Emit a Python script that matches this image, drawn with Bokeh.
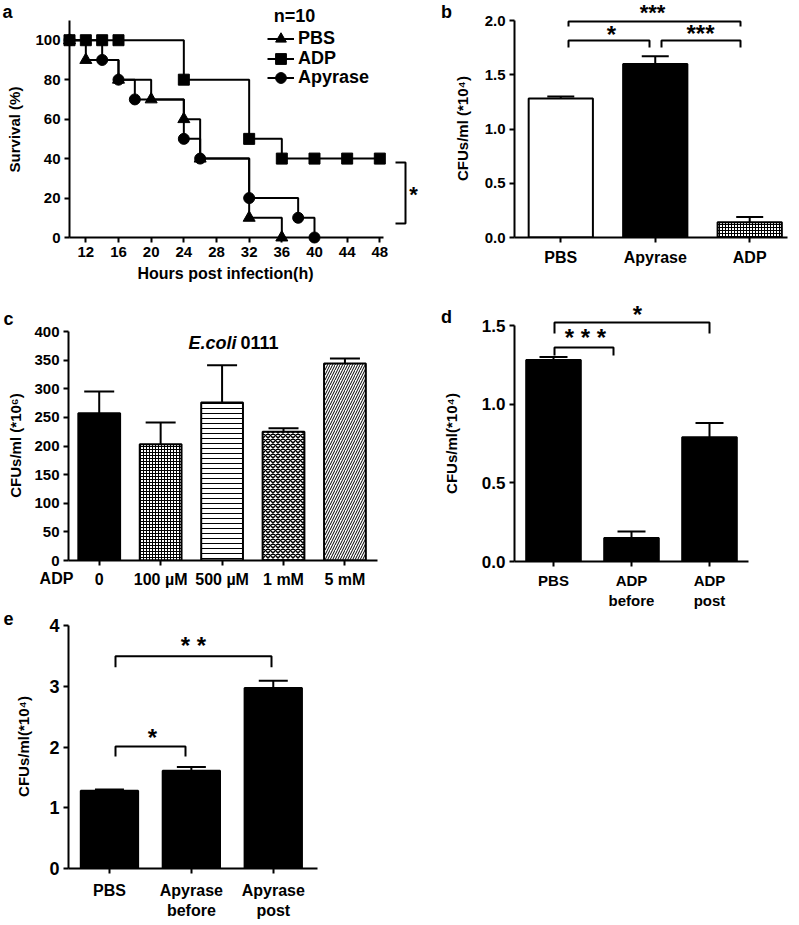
import math
from bokeh.plotting import figure
from bokeh.models import (ColumnDataSource, FixedTicker, Legend, LegendItem,
                          Range1d, TeeHead, Whisker, NumeralTickFormatter)
from bokeh.core.properties import field, value
from bokeh.layouts import row, column
from bokeh.embed import file_html
from bokeh.resources import INLINE

FONT = "Liberation Sans"

# ---------------- data ----------------
# (a) survival curves, n=10
pbs_hours = [10, 12, 16, 20, 24, 26, 32, 36]
pbs_survival = [100, 90, 80, 70, 60, 40, 10, 0]
adp_hours = [10, 12, 14, 16, 24, 32, 36, 40, 44, 48]
adp_survival = [100, 100, 100, 100, 80, 50, 40, 40, 40, 40]
apyrase_hours = [10, 14, 16, 18, 24, 26, 32, 38, 40]
apyrase_survival = [100, 90, 80, 70, 50, 40, 20, 10, 0]
hour_ticks = [12, 16, 20, 24, 28, 32, 36, 40, 44, 48]
survival_ticks = [0, 20, 40, 60, 80, 100]

# (b)
b_groups = ["PBS", "Apyrase", "ADP"]
b_mean = [1.28, 1.60, 0.14]
b_sem = [0.02, 0.07, 0.05]
b_ticks = [0.0, 0.5, 1.0, 1.5, 2.0]

# (c) E.coli 0111
c_groups = ["0", "100 µM", "500 µM", "1 mM", "5 mM"]
c_mean = [257, 203, 276, 225, 344]
c_sem = [38, 38, 65, 6, 9]
c_ticks = [0, 50, 100, 150, 200, 250, 300, 350, 400]

# (d)
d_groups = ["PBS", "ADP\nbefore", "ADP\npost"]
d_mean = [1.28, 0.15, 0.79]
d_sem = [0.02, 0.04, 0.09]
d_ticks = [0.0, 0.5, 1.0, 1.5]

# (e)
e_groups = ["PBS", "Apyrase\nbefore", "Apyrase\npost"]
e_mean = [1.28, 1.61, 2.97]
e_sem = [0.02, 0.06, 0.12]
e_ticks = [0, 1, 2, 3, 4]

# ---------------- styles ----------------
b_fill = ["white", "black", "white"]
b_hatch = ["blank", "blank", "cross"]
c_fill = ["black", "white", "white", "white", "white"]
c_hatch = ["blank", "cross", "horizontal_line", "diagonal_cross", "right_diagonal_line"]
c_hscale = [4, 3, 5, 5, 5]
c_hweight = [1, 1, 1, 1.5, 1]


class Panel:
    """canvas / frame given in page pixels"""
    def __init__(self, canvas, frame, xr, yr):
        self.cl, self.ct, self.cr, self.cb = canvas
        self.fl, self.ft, self.fr, self.fb = frame
        self.xr, self.yr = xr, yr

    def x(self, px):
        return self.xr[0] + (px - self.fl) * (self.xr[1] - self.xr[0]) / (self.fr - self.fl)

    def y(self, py):
        return self.yr[0] + (self.fb - py) * (self.yr[1] - self.yr[0]) / (self.fb - self.ft)

    def figure(self):
        p = figure(width=self.cr - self.cl, height=self.cb - self.ct,
                   x_range=Range1d(*self.xr), y_range=Range1d(*self.yr),
                   output_backend="svg", toolbar_location=None,
                   min_border_left=self.fl - self.cl, min_border_right=self.cr - self.fr,
                   min_border_top=self.ft - self.ct, min_border_bottom=self.cb - self.fb,
                   background_fill_color="white", border_fill_color="white")
        p.frame_align = False
        p.outline_line_color = None
        p.xgrid.visible = False
        p.ygrid.visible = False
        for ax in (p.xaxis[0], p.yaxis[0]):
            ax.axis_line_width = 2
            ax.axis_line_color = "black"
            ax.major_tick_line_width = 2
            ax.major_tick_line_color = "black"
            ax.major_tick_out = 5
            ax.major_tick_in = 0
            ax.minor_tick_line_color = None
            ax.major_label_text_font = FONT
            ax.major_label_text_font_style = "bold"
            ax.major_label_text_color = "black"
            ax.major_label_standoff = 4
        return p


def text(p, g, px, py, s, size, style="bold", angle=0, align="center"):
    r = p.text(x=[g.x(px)], y=[g.y(py)], text=[s], text_font=value(FONT),
               text_font_size=value(f"{size}px"), text_font_style=value(style),
               text_color="black", angle=angle, text_align=value(align),
               text_baseline=value("middle"))
    r.level = "overlay"


def star(p, g, px, py, s, size=24):
    text(p, g, px, py + 0.08 * size, s, size)


def bracket(p, g, pts):
    r = p.line([g.x(a) for a, _ in pts], [g.y(b) for _, b in pts],
               line_width=2, line_color="black")
    r.level = "overlay"


def bars(p, mean, sem, width, fills, hatches, hscales, hweights, cap):
    xs = list(range(len(mean)))
    src = ColumnDataSource(dict(x=xs, top=mean, upper=[m + s for m, s in zip(mean, sem)],
                                fill=fills, hatch=hatches, hs=hscales, hw=hweights))
    p.vbar(x="x", top="top", bottom=0, width=width, source=src,
           fill_color=field("fill"), line_color="black", line_width=2,
           hatch_pattern=field("hatch"), hatch_scale=field("hs"),
           hatch_weight=field("hw"), hatch_color="black")
    p.add_layout(Whisker(source=src, base="x", upper="upper", lower="top",
                         line_color="black", line_width=2,
                         upper_head=TeeHead(size=cap, line_width=2, line_color="black"),
                         lower_head=None, level="annotation"))


def cat_axis(p, groups, size, standoff=4):
    p.xaxis.ticker = FixedTicker(ticks=list(range(len(groups))))
    p.xaxis.major_label_overrides = {i: g for i, g in enumerate(groups)}
    p.xaxis.major_label_text_font_size = f"{size}px"
    p.xaxis.major_label_standoff = standoff


# ---------------- panel a ----------------
ga = Panel((0, 0, 420, 285), (69, 20, 383, 237), (10, 48.45), (0, 110))
pa = ga.figure()
pa.xaxis.ticker = FixedTicker(ticks=hour_ticks)
pa.yaxis.ticker = FixedTicker(ticks=survival_ticks)
pa.xaxis.major_label_text_font_size = "15px"
pa.yaxis.major_label_text_font_size = "15px"

l_pbs = pa.step(pbs_hours, pbs_survival, mode="after", line_width=2, line_color="black")
l_apy = pa.step(apyrase_hours, apyrase_survival, mode="after", line_width=2, line_color="black")
l_adp = pa.step(adp_hours, adp_survival, mode="after", line_width=2, line_color="black")
m_pbs = pa.scatter(pbs_hours, pbs_survival, marker="triangle", size=12, color="black")
m_apy = pa.scatter(apyrase_hours, apyrase_survival, marker="circle", size=11, color="black")
m_adp = pa.scatter(adp_hours, adp_survival, marker="square", size=11, color="black")
for r in (m_pbs, m_apy, m_adp):
    r.level = "overlay"

legend_rows = [("PBS", l_pbs, m_pbs, 38), ("ADP", l_adp, m_adp, 58), ("Apyrase", l_apy, m_apy, 77)]
for lab, lr, mr, cy in legend_rows:
    lg = Legend(items=[LegendItem(label=lab, renderers=[lr, mr])],
                location=(267 - ga.fl, ga.fb - (cy + 13.5)),
                label_text_font=FONT, label_text_font_size="18px",
                label_text_font_style="bold", label_text_color="black",
                glyph_width=27, glyph_height=27,
                label_height=19, label_standoff=4, padding=0, margin=0,
                border_line_color=None, background_fill_alpha=0)
    pa.add_layout(lg)

text(pa, ga, 294, 15, "n=10", 18)
text(pa, ga, 7, 11, "a", 18)
text(pa, ga, 14, 129, "Survival (%)", 15, angle=math.pi / 2)
text(pa, ga, 225, 273, "Hours post infection(h)", 16)
bracket(pa, ga, [(395, 162), (405, 162), (405, 223), (395, 223)])
star(pa, ga, 413, 192, "*", 22)

# ---------------- panel b ----------------
gb = Panel((420, 0, 799, 285), (514, 20, 787, 237), (-0.49, 2.40), (0, 2.0))
pb = gb.figure()
bars(pb, b_mean, b_sem, 0.68, b_fill, b_hatch, [4, 4, 3], [1, 1, 1], 27)
cat_axis(pb, b_groups, 16, 6)
pb.yaxis.ticker = FixedTicker(ticks=b_ticks)
pb.yaxis.formatter = NumeralTickFormatter(format="0.0")
pb.yaxis.major_label_text_font_size = "15px"
text(pb, gb, 446, 11, "b", 18)
text(pb, gb, 462, 128, "CFUs/ml (*10⁴)", 15, angle=math.pi / 2)
bracket(pb, gb, [(568, 26), (568, 21), (740, 21), (740, 26)])
bracket(pb, gb, [(568, 47), (568, 40), (649, 40), (649, 47)])
bracket(pb, gb, [(661, 47), (661, 40), (740, 40), (740, 47)])
star(pb, gb, 652, 10, "***", 22)
star(pb, gb, 611, 32, "*")
star(pb, gb, 700, 31, "***")

# ---------------- panel c ----------------
gc = Panel((0, 285, 420, 600), (68, 331, 377, 560), (-0.5, 4.53), (0, 400))
pc = gc.figure()
bars(pc, c_mean, c_sem, 0.68, c_fill, c_hatch, c_hscale, c_hweight, 30)
cat_axis(pc, c_groups, 16, 5)
pc.yaxis.ticker = FixedTicker(ticks=c_ticks)
pc.yaxis.major_label_text_font_size = "15px"
text(pc, gc, 8, 318, "c", 18)
text(pc, gc, 15, 445, "CFUs/ml (*10⁶)", 15, angle=math.pi / 2)
text(pc, gc, 56, 578, "ADP", 16)
text(pc, gc, 236, 342, "E.coli", 18, style="bold italic", align="right")
text(pc, gc, 240, 342, "0111", 18, align="left")

# ---------------- panel d ----------------
gd = Panel((420, 285, 799, 630), (514, 325, 748, 561), (-0.5, 2.5), (0, 1.5))
pd_ = gd.figure()
bars(pd_, d_mean, d_sem, 0.70, ["black"] * 3, ["blank"] * 3, [4] * 3, [1] * 3, 28)
cat_axis(pd_, d_groups, 15, 5)
pd_.yaxis.ticker = FixedTicker(ticks=d_ticks)
pd_.yaxis.formatter = NumeralTickFormatter(format="0.0")
pd_.yaxis.major_label_text_font_size = "17px"
text(pd_, gd, 446, 316, "d", 18)
text(pd_, gd, 451, 443, "CFUs/ml(*10⁴)", 15, angle=math.pi / 2)
bracket(pd_, gd, [(554, 333), (554, 322), (709, 322), (709, 333)])
bracket(pd_, gd, [(554, 355), (554, 347), (613, 347), (613, 355)])
star(pd_, gd, 637, 312, "*")
star(pd_, gd, 585, 335, "* * *")

# ---------------- panel e ----------------
ge = Panel((0, 600, 420, 921), (68, 625, 317, 870), (-0.5, 2.54), (0, 4))
pe = ge.figure()
bars(pe, e_mean, e_sem, 0.70, ["black"] * 3, ["blank"] * 3, [4] * 3, [1] * 3, 29)
cat_axis(pe, e_groups, 16, 8)
pe.yaxis.ticker = FixedTicker(ticks=e_ticks)
pe.yaxis.major_label_text_font_size = "18px"
text(pe, ge, 8, 618, "e", 18)
text(pe, ge, 23, 747, "CFUs/ml(*10⁴)", 15, angle=math.pi / 2)
bracket(pe, ge, [(115, 667), (115, 656), (271, 656), (271, 667)])
bracket(pe, ge, [(115, 757), (115, 747), (185, 747), (185, 757)])
star(pe, ge, 193, 643, "* *")
star(pe, ge, 152, 736, "*")

layout = row(column(pa, pc, pe), column(pb, pd_))
open("out.html", "w").write(file_html(layout, INLINE))
